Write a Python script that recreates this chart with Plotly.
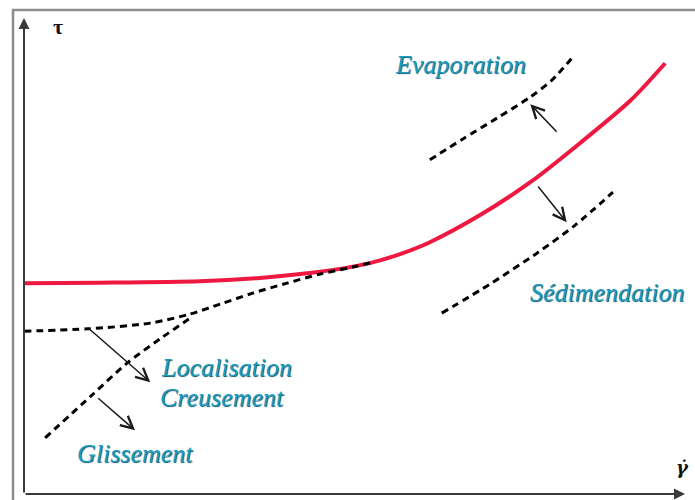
import plotly.graph_objects as go

# ---- data (x: shear rate units, y: shear stress units) ----
flow_x = [0, 11.5, 26.6, 35.7, 41.8, 47.8, 52.3, 56.9, 61.4, 69.0, 76.6, 84.1, 91.7, 97.0]
flow_y = [44.3, 44.4, 44.7, 45.4, 46.2, 47.3, 48.5, 50.4, 52.9, 58.6, 65.5, 73.7, 82.6, 90.5]

evap_x = [61.4, 66.4, 71.6, 76.6, 79.9, 82.9]
evap_y = [70.2, 74.6, 79.0, 83.4, 87.0, 91.6]

sed_x = [63.2, 70.5, 77.6, 83.4, 89.1]
sed_y = [38.0, 44.1, 50.6, 56.5, 63.4]

loc_x = [0, 9.7, 19.1, 25.1, 29.7, 34.6, 39.8, 44.8, 49.8, 52.8]
loc_y = [34.2, 34.7, 35.9, 37.8, 39.9, 42.2, 44.3, 46.2, 47.7, 48.7]

gliss_x = [3.2, 10.3, 15.6, 20.6, 25.4]
gliss_y = [11.8, 20.8, 27.5, 32.6, 37.2]

# arrows: (tail_x, tail_y, tip_x, tip_y)
arrow_names = ["evaporation", "sedimentation", "localisation", "glissement"]
arrow_tail_x = [80.8, 77.6, 9.7, 11.0]
arrow_tail_y = [75.8, 64.9, 34.9, 20.4]
arrow_tip_x = [76.6, 82.1, 19.1, 16.8]
arrow_tip_y = [81.9, 57.1, 23.5, 13.4]

labels = ["Evaporation", "Sédimendation", "Localisation", "Creusement", "Glissement"]
label_x = [66.0, 88.2, 30.6, 30.0, 16.8]
label_y = [90.3, 42.4, 26.5, 20.2, 8.6]

# ---- pixel/data geometry ----
W, H = 695, 500
X0PX, XPX_PER = 24, 6.61
Y0PX, YPX_PER = 494, 4.76
xrange = [(0 - X0PX) / XPX_PER, (W - X0PX) / XPX_PER]
yrange = [(Y0PX - H) / YPX_PER, Y0PX / YPX_PER]

fig = go.Figure()

dash_style = "7px,5px"
for xs, ys in [(evap_x, evap_y), (sed_x, sed_y), (gliss_x, gliss_y)]:
    fig.add_trace(go.Scatter(x=xs, y=ys, mode="lines",
                             line=dict(color="black", width=3, dash=dash_style,
                                       shape="spline", smoothing=0.8),
                             hoverinfo="skip", showlegend=False))

fig.add_trace(go.Scatter(x=flow_x, y=flow_y, mode="lines",
                         line=dict(color="#EE1840", width=4, shape="spline", smoothing=0.8),
                         hoverinfo="skip", showlegend=False))
fig.add_trace(go.Scatter(x=loc_x, y=loc_y, mode="lines",
                         line=dict(color="black", width=3, dash=dash_style,
                                   shape="spline", smoothing=0.8),
                         hoverinfo="skip", showlegend=False))

# axes arrows
axis_color = "#3a3a3a"
fig.add_annotation(x=0, y=(Y0PX - 18) / YPX_PER, ax=0, ay=0,
                   xref="x", yref="y", axref="x", ayref="y", text="",
                   showarrow=True, arrowhead=2, arrowsize=1.1, arrowwidth=2,
                   arrowcolor=axis_color)
fig.add_annotation(x=(685 - X0PX) / XPX_PER, y=0, ax=0, ay=0,
                   xref="x", yref="y", axref="x", ayref="y", text="",
                   showarrow=True, arrowhead=2, arrowsize=1.1, arrowwidth=2,
                   arrowcolor=axis_color)

# process arrows
for tx, ty, hx, hy in zip(arrow_tail_x, arrow_tail_y, arrow_tip_x, arrow_tip_y):
    fig.add_annotation(x=hx, y=hy, ax=tx, ay=ty,
                       xref="x", yref="y", axref="x", ayref="y", text="",
                       showarrow=True, arrowhead=5, arrowsize=1.6, arrowwidth=1.5,
                       arrowcolor="#1a1a1a")

teal = "#1A9BC0"
for t, x, y in zip(labels, label_x, label_y):
    fig.add_annotation(x=x, y=y, xref="x", yref="y", text=t, showarrow=False,
                       font=dict(family="Liberation Serif", size=26, color=teal,
                                 style="italic", shadow="0.7px 0.7px 0.8px #0d5a70"))

# axis symbols
fig.add_annotation(x=(58 - X0PX) / XPX_PER, y=(Y0PX - 26) / YPX_PER, xref="x", yref="y",
                   text="<b>τ</b>", showarrow=False,
                   font=dict(family="Liberation Serif", size=22, color="#111"))
fig.add_annotation(x=(682 - X0PX) / XPX_PER, y=(Y0PX - 467) / YPX_PER, xref="x", yref="y",
                   text="<b><i>γ̇</i></b>", showarrow=False,
                   font=dict(family="DejaVu Serif", size=18, color="#111"))

# outer frame
fig.add_shape(type="rect", xref="paper", yref="paper",
              x0=13 / W, x1=1.02, y0=-0.02, y1=1 - 10 / H,
              line=dict(color="#8c8c8c", width=2.5), fillcolor="rgba(0,0,0,0)")

fig.update_xaxes(range=xrange, visible=False, fixedrange=True)
fig.update_yaxes(range=yrange, visible=False, fixedrange=True)
fig.update_layout(width=W, height=H, margin=dict(l=0, r=0, t=0, b=0),
                  plot_bgcolor="white", paper_bgcolor="white")

fig.write_html("out.html", config={"displayModeBar": False},
               post_script="document.body.style.margin='0';document.body.style.overflow='hidden';")
